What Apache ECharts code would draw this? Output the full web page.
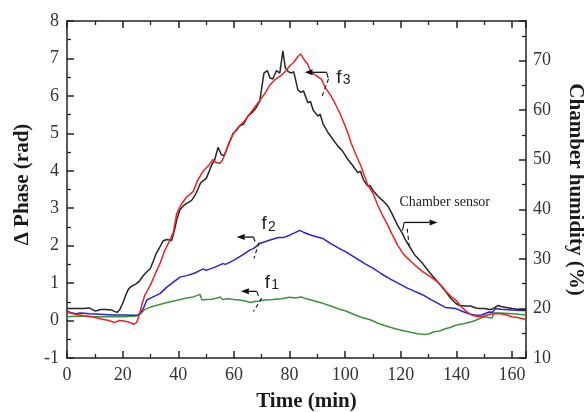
<!DOCTYPE html>
<html>
<head>
<meta charset="utf-8">
<script src="https://cdn.jsdelivr.net/npm/echarts@6/dist/echarts.min.js"></script>
<style>
html,body{margin:0;padding:0;background:#fff;}
#chart{width:584px;height:412px;}
</style>
</head>
<body>
<div id="chart"></div>
<script>
// ---- Data ----
// Time axis ticks
const xTicks = [0, 20, 40, 60, 80, 100, 120, 140, 160];

// f3 (red) : time (min) / Δ phase (rad)
const f3Time = [0,3,6,9,12,15,17,19,21,23,24,25,26,27,28,30,32,33.4,35,37,38.2,39.4,41,43,45.4,47,49,51,52.5,53.5,55,56,58,59.7,62,64,66,68,69.3,71,73,75,77,78.8,80,81.5,83,84,85.4,86.5,87.8,89.5,91.4,93,94.5,96,98,99.7,101,102.1,104,105.7,107,108.1,110,111.7,113.5,115.3,117,118.9,120.5,121.9,124,126,128,130,132,133.8,136,138,139.8,142,144,145.7,148,150,152,154,156,158,160,162,165];
const f3Phase = [0.22,0.17,0.13,0.1,0.05,0.0,-0.05,0.0,-0.02,-0.06,-0.1,-0.05,0.15,0.45,0.68,0.95,1.3,1.52,1.85,2.15,2.35,2.85,3.1,3.3,3.45,3.75,4.0,4.15,4.3,4.22,4.2,4.3,4.7,4.99,5.2,5.35,5.55,5.75,5.88,6.05,6.3,6.45,6.55,6.68,6.8,6.9,7.05,7.12,6.95,6.85,6.62,6.55,6.45,6.2,6.05,5.85,5.55,5.25,5.0,4.75,4.4,4.12,3.85,3.62,3.4,3.08,2.8,2.55,2.28,2.01,1.82,1.7,1.55,1.42,1.3,1.2,1.1,0.99,0.8,0.65,0.54,0.35,0.22,0.14,0.1,0.12,0.17,0.19,0.18,0.15,0.1,0.08,0.03];

// f2 (blue)
const f2Time = [0,1,3,5,8,12,16,20,24,25.5,26.5,27.5,28.7,30,33.4,36,40.6,43,46,47.8,49,50,53,56,57,59.7,63,65.7,67,68,69.3,73,76,78,80,82,83.6,85,87,89,92,95,98,101,104,107,110,113,115.9,119,122,125,127.8,131,134,136,139.8,142,145,147,149,151.7,153,154,156,160,163.6,165];
const f2Phase = [0.25,0.22,0.18,0.2,0.18,0.17,0.15,0.15,0.14,0.15,0.22,0.33,0.55,0.6,0.72,0.9,1.16,1.2,1.27,1.34,1.38,1.34,1.42,1.52,1.5,1.6,1.75,1.88,1.92,1.98,2.06,2.15,2.22,2.22,2.28,2.35,2.41,2.36,2.3,2.25,2.19,2.05,1.92,1.8,1.66,1.52,1.4,1.25,1.12,1.0,0.88,0.78,0.69,0.55,0.43,0.35,0.32,0.25,0.17,0.14,0.15,0.23,0.22,0.32,0.3,0.28,0.27,0.27];

// f1 (green)
const f1Time = [0,5,10,15,20,25,26.5,28,30,33,36,40,43,45,47.8,48.5,50,52,54,55,56,58,60,62,64,66,67,69,71,74,77,80,82,84.2,86,88,90,92,95,98,100,103,106,109,112,115,118,121,124,126,128.4,130,132,134,136,138,140,143,146,148,150,152.8,153.5,156,160,165];
const f1Phase = [0.1,0.12,0.1,0.1,0.1,0.12,0.18,0.3,0.36,0.42,0.48,0.55,0.6,0.62,0.7,0.55,0.56,0.57,0.6,0.63,0.56,0.58,0.56,0.55,0.52,0.48,0.5,0.52,0.55,0.56,0.58,0.62,0.6,0.63,0.58,0.54,0.5,0.46,0.38,0.3,0.26,0.17,0.08,0.02,-0.08,-0.15,-0.22,-0.27,-0.32,-0.35,-0.37,-0.36,-0.3,-0.28,-0.22,-0.18,-0.12,-0.08,-0.02,0.04,0.1,0.07,0.2,0.2,0.18,0.15];

// Chamber sensor (black) : time (min) / chamber humidity (%)
const chamberTime = [0,3,6,8,10,11,12,14,16,17,18,19,20,21,22,23,25,26,27,28,29.9,31,32,33.4,34.5,35.8,37.6,38.5,39.5,40.6,42,43,44.8,46,47,48,49,50,51,52,53,54.3,55.5,56.5,58,59.7,61,62,63.5,65,66.5,68,69.3,70,70.8,72,73,74,75.3,76.5,77.6,78.5,79.5,80.6,81.5,83,84,85,86.6,87.5,88.5,90.2,91,92,93.8,94.5,95.5,97.3,98,99,100.9,101.5,102.5,104.5,105.5,106.5,108.1,109,110,111.7,113,114,115.3,116.5,118.9,120.6,121.5,123,125,127.8,130,131.5,133.8,136,138,139.8,141,143.4,145,147,148.1,150,152,153,155,156,158,160,163.6,165];
const chamberHumidity = [20.0,20.0,20.0,20.1,19.5,19.6,19.8,19.8,19.7,19.4,19.2,19.8,21.0,22.5,23.8,24.4,25.0,25.5,26.3,27.0,28.0,29.5,31.0,32.4,33.6,33.9,33.7,35.5,38.0,39.9,40.8,41.2,41.8,42.8,44.0,45.3,45.8,46.2,47.5,49.0,49.8,52.5,51.0,50.8,53.0,55.3,56.0,56.8,57.2,58.8,59.5,60.5,61.9,62.0,67.5,68.0,66.5,66.3,68.0,67.5,72.0,68.5,67.8,67.5,67.8,64.1,63.6,63.9,61.5,61.8,60.0,58.8,59.2,57.3,55.5,55.9,54.2,52.8,53.2,51.8,50.1,50.5,49.0,47.4,47.7,46.0,44.7,44.8,43.8,42.7,42.0,41.5,40.7,39.5,36.7,35.1,34.0,32.6,30.8,29.1,27.5,26.5,25.0,23.5,22.0,21.0,20.6,20.5,20.5,20.1,20.0,20.0,19.8,19.9,20.6,20.4,20.2,20.0,19.7,19.7];

// ---- Styling ----
const SERIF = '"Liberation Serif", "Times New Roman", serif';
const SANS = '"Liberation Sans", Arial, sans-serif';
const AX = '#222';

function pairs(t, v) { return t.map((x, i) => [x, v[i]]); }

const chart = echarts.init(document.getElementById('chart'), null, {renderer: 'canvas'});

function axisParts() {
  return {
    axisLine: {show: true, onZero: false, lineStyle: {color: AX, width: 1.5}},
    axisTick: {show: true, inside: true, length: 7, lineStyle: {color: AX, width: 1.5}},
    minorTick: {show: true, splitNumber: 2, length: 4, lineStyle: {color: AX, width: 1.3}},
    splitLine: {show: false},
    minorSplitLine: {show: false}
  };
}
const labelCommon = {fontFamily: SERIF, fontSize: 18, color: '#333'};
const nameStyle = {fontFamily: SERIF, fontSize: 21, fontWeight: 'bold', color: '#1a1a1a'};

const option = {
  animation: false,
  backgroundColor: '#fff',
  grid: {left: 67, right: 58, top: 21, bottom: 54, containLabel: false, outerBoundsMode: 'none'},
  xAxis: [
    Object.assign(axisParts(), {
      type: 'value', position: 'bottom', min: 0, max: 165, interval: 20,
      axisLabel: Object.assign({}, labelCommon, {margin: 8, showMaxLabel: false,
        formatter: v => xTicks.indexOf(v) >= 0 ? String(v) : ''}),
      name: 'Time (min)', nameLocation: 'middle', nameGap: 33,
      nameTextStyle: Object.assign({}, nameStyle, {padding: [0, 0, 0, 20]})
    }),
    Object.assign(axisParts(), {
      type: 'value', position: 'top', min: 0, max: 165, interval: 20,
      axisLabel: {show: false}
    })
  ],
  yAxis: [
    Object.assign(axisParts(), {
      type: 'value', position: 'left', min: -1, max: 8, interval: 1,
      axisLabel: Object.assign({}, labelCommon, {margin: 8}),
      name: 'Δ Phase (rad)', nameLocation: 'middle', nameGap: 30,
      nameTextStyle: Object.assign({}, nameStyle, {padding: [0, 0, 0, 10]})
    }),
    Object.assign(axisParts(), {
      type: 'value', position: 'right', min: 10, max: 78, interval: 10, alignTicks: false,
      axisLabel: Object.assign({}, labelCommon, {margin: 7, showMaxLabel: false,
        formatter: v => (v % 10 === 0 ? String(v) : '')}),
      name: 'Chamber humidity (%)', nameLocation: 'middle', nameGap: 39, nameRotate: -90,
      nameTextStyle: nameStyle
    })
  ],
  series: [
    {name: 'f1', type: 'line', xAxisIndex: 0, yAxisIndex: 0, data: pairs(f1Time, f1Phase),
      showSymbol: false, lineStyle: {color: '#3a953a', width: 1.5}, z: 2},
    {name: 'f2', type: 'line', xAxisIndex: 0, yAxisIndex: 0, data: pairs(f2Time, f2Phase),
      showSymbol: false, lineStyle: {color: '#2323e0', width: 1.5}, z: 3},
    {name: 'Chamber sensor', type: 'line', xAxisIndex: 0, yAxisIndex: 1, data: pairs(chamberTime, chamberHumidity),
      showSymbol: false, lineStyle: {color: '#262626', width: 1.5}, z: 4},
    {name: 'f3', type: 'line', xAxisIndex: 0, yAxisIndex: 0, data: pairs(f3Time, f3Phase),
      showSymbol: false, lineStyle: {color: '#ee2222', width: 1.5}, z: 5}
  ]
};
chart.setOption(option);

// ---- Annotations (anchored in data coordinates of the left/bottom axes) ----
function px(t, v) { return chart.convertToPixel({xAxisIndex: 0, yAxisIndex: 0}, [t, v]); }

function arrow(from, to) {
  const a = px(from[0], from[1]), b = px(to[0], to[1]);
  const dx = b[0] - a[0], dy = b[1] - a[1];
  const len = Math.sqrt(dx * dx + dy * dy) || 1;
  const ux = dx / len, uy = dy / len;
  const hl = 8, hw = 3;
  const base = [b[0] - ux * hl, b[1] - uy * hl];
  return [
    {type: 'line', shape: {x1: a[0], y1: a[1], x2: base[0], y2: base[1]},
      style: {stroke: '#111', lineWidth: 1.3}, z: 20},
    {type: 'polygon', shape: {points: [[b[0], b[1]], [base[0] - uy * hw, base[1] + ux * hw], [base[0] + uy * hw, base[1] - ux * hw]]},
      style: {fill: '#111'}, z: 20}
  ];
}
function hook(at, dt, dv) {
  const a = px(at[0], at[1]), b = px(at[0] + dt, at[1] + dv);
  return {type: 'line', shape: {x1: a[0], y1: a[1], x2: b[0], y2: b[1]}, style: {stroke: '#111', lineWidth: 1.1}, z: 20};
}
function dashed(from, to) {
  const a = px(from[0], from[1]), b = px(to[0], to[1]);
  return {type: 'line', shape: {x1: a[0], y1: a[1], x2: b[0], y2: b[1]},
    style: {stroke: '#111', lineWidth: 1.1, lineDash: [4, 3]}, z: 20};
}
function fLabel(t, v, digit) {
  const p = px(t, v);
  return [
    {type: 'text', x: p[0], y: p[1], style: {text: 'f', font: '19px ' + SANS, fill: '#222', verticalAlign: 'bottom', align: 'left'}, z: 20},
    {type: 'text', x: p[0] + 6.5, y: p[1], style: {text: digit, font: '14px ' + SANS, fill: '#222', verticalAlign: 'bottom', align: 'left'}, z: 20}
  ];
}

let g = [];
// f3
g = g.concat(fLabel(96.8, 6.24, '3'));
g = g.concat(arrow([93.3, 6.63], [85.4, 6.63]));
g.push(hook([93.3, 6.63], 0.6, -0.15));
g.push(dashed([94.0, 6.45], [91.5, 5.95]));
// f2
g = g.concat(fLabel(69.9, 2.32, '2'));
g = g.concat(arrow([67.0, 2.23], [61.0, 2.23]));
g.push(hook([67.0, 2.23], 0.6, -0.12));
g.push(dashed([69.0, 2.08], [67.2, 1.66]));
// f1
g = g.concat(fLabel(71.1, 0.76, '1'));
g = g.concat(arrow([68.2, 0.78], [62.5, 0.78]));
g.push(hook([68.2, 0.78], 0.6, -0.12));
g.push(dashed([70.0, 0.6], [67.0, 0.24]));
// Chamber sensor
const cs = px(119.5, 2.97);
g.push({type: 'text', x: cs[0], y: cs[1], style: {text: 'Chamber sensor', font: '14px ' + SERIF, fill: '#222', verticalAlign: 'bottom', align: 'left'}, z: 20});
g = g.concat(arrow([121.2, 2.62], [133.2, 2.62]));
g.push(hook([121.2, 2.62], -0.6, -0.22));
g.push(dashed([122.3, 2.45], [123.0, 2.0]));

chart.setOption({graphic: g});
</script>
</body>
</html>
